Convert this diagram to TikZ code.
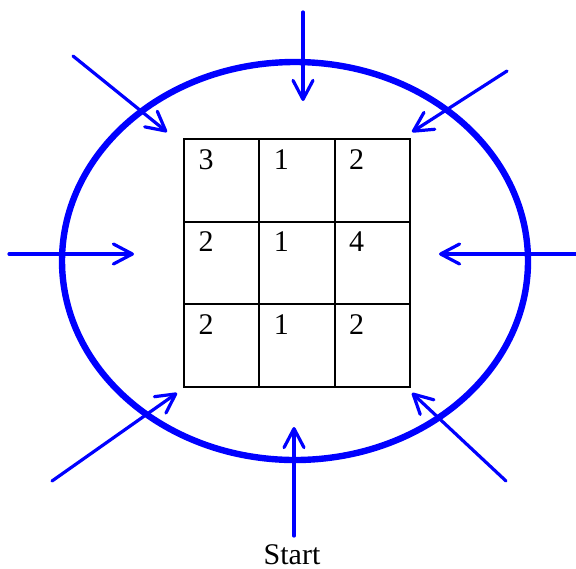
\documentclass[tikz,border=0pt]{standalone}
\usepackage{fontspec}
\setmainfont{Liberation Serif}
\usetikzlibrary{arrows.meta,positioning}
\definecolor{ringblue}{HTML}{0000FF}

\begin{document}
\begin{tikzpicture}[
  x=0.5pt,y=-0.5pt,
  cell/.style={draw,line width=1pt,minimum width=37.67pt,minimum height=41.33pt,
               inner sep=0pt,outer sep=0pt},
  num/.style={font=\fontsize{15}{18}\selectfont,anchor=base,inner sep=0pt},
  ring/.style={draw=ringblue,line width=3.2pt},
  arr/.style={-{Straight Barb[length=9.5pt,width=10pt,round]},draw=ringblue,
              line width=1.6pt,line cap=round}
]
\useasboundingbox (0,0) rectangle (576,568);

% outer ring
\draw[ring] (295,261) ellipse [x radius=116.5pt,y radius=99.5pt];

% the 3x3 board
\node[cell] (c11) at (221.67,180.33) {};
\node[cell,right=0pt of c11] (c12) {};
\node[cell,right=0pt of c12] (c13) {};
\node[cell,below=0pt of c11] (c21) {};
\node[cell,right=0pt of c21] (c22) {};
\node[cell,right=0pt of c22] (c23) {};
\node[cell,below=0pt of c21] (c31) {};
\node[cell,right=0pt of c31] (c32) {};
\node[cell,right=0pt of c32] (c33) {};

\node[num] (n11) at ([shift={(22,30)}]c11.north west) {3};
\node[num] (n12) at ([shift={(22,30)}]c12.north west) {1};
\node[num] (n13) at ([shift={(22,30)}]c13.north west) {2};
\node[num] (n21) at ([shift={(22,30)}]c21.north west) {2};
\node[num] (n22) at ([shift={(22,30)}]c22.north west) {1};
\node[num] (n23) at ([shift={(22,30)}]c23.north west) {4};
\node[num] (n31) at ([shift={(22,30)}]c31.north west) {2};
\node[num] (n32) at ([shift={(22,30)}]c32.north west) {1};
\node[num] (n33) at ([shift={(22,30)}]c33.north west) {2};

% where the arrows start and end
\coordinate (tls) at (73,56);   \coordinate (tle) at (167,132);
\coordinate (ts)  at (303,12);  \coordinate (te)  at (303,101);
\coordinate (trs) at (507,71);  \coordinate (tre) at (412,132);
\coordinate (ls)  at (9,254);   \coordinate (le)  at (134,254);
\coordinate (rs)  at (578,254); \coordinate (re)  at (439,254);
\coordinate (bls) at (52,481);  \coordinate (ble) at (177,393);
\coordinate (bs)  at (294,536); \coordinate (be)  at (294,427);
\coordinate (brs) at (506,481); \coordinate (bre) at (412,393);

\draw[arr] (tls) -- (tle);
\draw[arr] (ts) -- (te);
\draw[arr] (trs) -- (tre);
\draw[arr] (ls) -- (le);
\draw[arr] (rs) -- (re);
\draw[arr] (bls) -- (ble);
\draw[arr] (bs) -- (be);
\draw[arr] (brs) -- (bre);

\node[num,anchor=north,below=4pt of bs,xshift=-1pt] (start) {Start};
\end{tikzpicture}
\end{document}
